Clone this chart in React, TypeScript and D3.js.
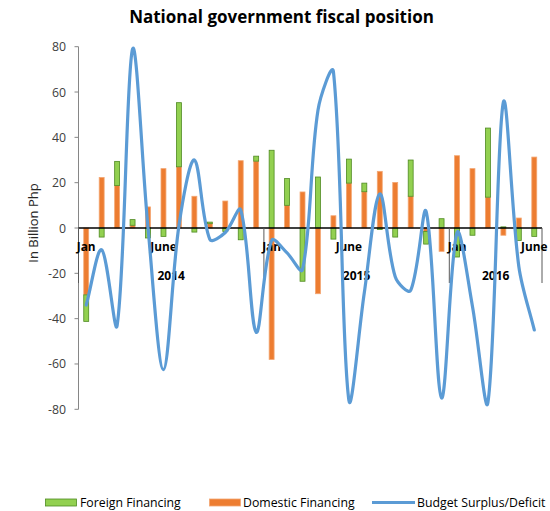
import React from "react";
import * as d3 from "d3";

// months Jan 2014 .. June 2016, only Jan and June are labelled
const months = [
  "Jan", "", "", "", "", "June", "", "", "", "", "", "",
  "Jan", "", "", "", "", "June", "", "", "", "", "", "",
  "Jan", "", "", "", "", "June",
];
const years = ["2014", "2015", "2016"];
const yearSpans = [12, 12, 6];

const domestic = [
  -29.5, 22.3, 18.7, 1.2, 9.3, 26.2, 27, 14, 1.9, 11.9, 29.7, 29.5,
  -58, 10, 15.9, -29, 5.4, 19.8, 16, 25, 20.1, 14, -1.5, -10.3,
  31.9, 26.2, 13.6, -3.2, 4.4, 31.3,
];
const foreign = [
  -11.7, -4, 10.7, 2.5, -4.4, -3.7, 28.3, -1.8, 0.7, -1.5, -5.2, 2.2,
  34.3, 11.8, -23.5, 22.5, -4.9, 10.6, 3.8, -0.7, -4, 16, -5.6, 4.1,
  -12.8, -3.2, 30.5, 0.5, -5.5, -3.7,
];
const budget = [
  -34, -9.6, -43, 79, 0, -62.5, 1, 30, -5, -2, 8, -46,
  -5.5, -11, -18.4, 52, 69, -76, -28.5, 15, -21.5, -27.5, 7.3, -75,
  -2, -34.6, -77, 55.5, -17, -45,
];
const yTicks = [80, 60, 40, 20, 0, -20, -40, -60, -80];

const FONT = "'Open Sans', Lato, sans-serif";
const GREEN = "#92D050";
const ORANGE = "#ED7D31";
const BLUE = "#5B9BD5";

// spreadsheet-style smoothing: bezier handles along the neighbour chord,
// split in proportion to the adjacent segment lengths
function smoothPath(pts: [number, number][]) {
  const p = d3.path();
  const n = pts.length;
  const outH: [number, number][] = [];
  const inH: [number, number][] = [];
  for (let i = 0; i < n; i++) {
    const prev = pts[Math.max(0, i - 1)];
    const next = pts[Math.min(n - 1, i + 1)];
    const cur = pts[i];
    const d1 = Math.hypot(cur[0] - prev[0], cur[1] - prev[1]);
    const d2 = Math.hypot(next[0] - cur[0], next[1] - cur[1]);
    const tx = next[0] - prev[0];
    const ty = next[1] - prev[1];
    const s = d1 + d2 || 1;
    outH.push([cur[0] + (tx * d2) / s / 3, cur[1] + (ty * d2) / s / 3]);
    inH.push([cur[0] - (tx * d1) / s / 3, cur[1] - (ty * d1) / s / 3]);
  }
  p.moveTo(pts[0][0], pts[0][1]);
  for (let i = 1; i < n; i++) {
    p.bezierCurveTo(outH[i - 1][0], outH[i - 1][1], inH[i][0], inH[i][1], pts[i][0], pts[i][1]);
  }
  return p.toString();
}

export default function App() {
  const W = 550;
  const H = 511;
  const left = 78.5;
  const right = 542;
  const top = 46.7;
  const bottom = 409.3;

  const idx = months.map((_, i) => i);
  const x = d3.scaleBand<number>().domain(idx).range([left, right]).paddingInner(0.68).paddingOuter(0.34);
  const step = x.step();
  const cx = (i: number) => (x(i) as number) + x.bandwidth() / 2;
  const y = d3.scaleLinear().domain([-80, 80]).range([bottom, top]);

  const rows = idx.map((i) => ({ domestic: domestic[i], foreign: foreign[i] }));
  const stacked = d3
    .stack<{ domestic: number; foreign: number }>()
    .keys(["domestic", "foreign"])
    .offset(d3.stackOffsetDiverging)(rows);

  const linePts = budget.map((v, i) => [cx(i), y(v)] as [number, number]);

  // year group boundaries
  const bounds: number[] = [left];
  let acc = 0;
  yearSpans.forEach((n) => {
    acc += n;
    bounds.push(left + acc * step);
  });

  return (
    <svg width={W} height={H} style={{ position: "absolute", left: 0, top: 0, background: "#fff" }} fontFamily={FONT}>
      <text x={281.5} y={23} textAnchor="middle" fontSize={17} fontWeight="bold" fill="#000">
        National government fiscal position
      </text>

      {/* y axis */}
      <line x1={left} x2={left} y1={top} y2={bottom} stroke="#868686" strokeWidth={1} />
      {yTicks.map((t) => (
        <g key={t}>
          <line x1={left - 4} x2={left} y1={y(t)} y2={y(t)} stroke="#868686" />
          <text x={66} y={y(t) + 4.5} textAnchor="end" fontSize={12.3} fill="#404040">
            {t}
          </text>
        </g>
      ))}
      <text
        transform={`translate(38,${(top + bottom) / 2 - 5}) rotate(-90)`}
        textAnchor="middle"
        fontSize={13}
        fill="#262626"
      >
        In Billion Php
      </text>

      {/* stacked bars */}
      {stacked.map((s) =>
        s.map((d, i) => (
          <rect
            key={s.key + i}
            x={x(i)}
            width={x.bandwidth()}
            y={y(Math.max(d[0], d[1]))}
            height={Math.abs(y(d[0]) - y(d[1]))}
            fill={s.key === "foreign" ? GREEN : ORANGE}
            stroke={s.key === "foreign" ? "#4F8A22" : "#F3A672"}
            strokeWidth={0.8}
          />
        ))
      )}

      {/* category axis */}
      <line x1={left} x2={right} y1={y(0)} y2={y(0)} stroke="#000" strokeWidth={1.3} />
      {bounds.map((b, i) => (
        <line key={i} x1={b} x2={b} y1={y(0)} y2={283} stroke="#595959" strokeWidth={1} />
      ))}
      {months.map((m, i) =>
        m ? (
          <text key={i} x={cx(i)} y={251} textAnchor="middle" fontSize={11.8} fontWeight="bold" fill="#000">
            {m}
          </text>
        ) : null
      )}
      {years.map((yr, i) => (
        <text key={yr} x={(bounds[i] + bounds[i + 1]) / 2} y={280} textAnchor="middle" fontSize={12} fontWeight="bold" fill="#000">
          {yr}
        </text>
      ))}

      {/* budget line */}
      <path d={smoothPath(linePts)} fill="none" stroke={BLUE} strokeWidth={3.2} strokeLinejoin="round" strokeLinecap="round" />

      {/* legend */}
      <g fontSize={12.3} fill="#000">
        <rect x={45.5} y={499} width={31} height={7} fill={GREEN} stroke="#4F8A22" strokeWidth={0.8} />
        <text x={80} y={507}>Foreign Financing</text>
        <rect x={209.5} y={499} width={31} height={7} fill={ORANGE} stroke="#F3A672" strokeWidth={0.8} />
        <text x={243} y={507}>Domestic Financing</text>
        <line x1={372} x2={415} y1={502.5} y2={502.5} stroke={BLUE} strokeWidth={3} />
        <text x={417} y={507}>Budget Surplus/Deficit</text>
      </g>
    </svg>
  );
}
